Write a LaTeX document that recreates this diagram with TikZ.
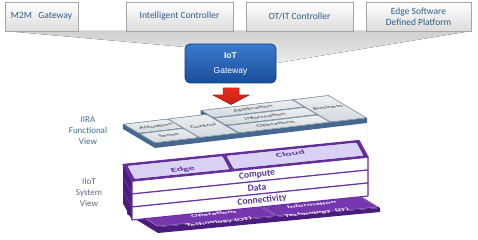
\documentclass[tikz,border=0pt]{standalone}
\usepackage{fontspec}
\setmainfont{Carlito}
\newfontfamily\gwfont{Liberation Sans}
\usetikzlibrary{shadows}
\definecolor{boxText}{HTML}{2E5C8A}
\definecolor{boxEdge}{HTML}{A6A6A6}
\definecolor{boxLow}{HTML}{DCDCDC}
\definecolor{funnelGrey}{HTML}{D0D0D0}
\definecolor{gwTop}{HTML}{3A7BCB}
\definecolor{gwLow}{HTML}{1A4E9C}
\definecolor{gwEdge}{HTML}{153E78}
\definecolor{arrowRed}{HTML}{F02A1E}
\definecolor{arrowEdge}{HTML}{A30D0D}
\definecolor{tileGrey}{HTML}{D3D8DD}
\definecolor{tileEdge}{HTML}{7C90A6}
\definecolor{slabSide}{HTML}{46688F}
\definecolor{slabGap}{HTML}{6F87A2}
\definecolor{tileText}{HTML}{3A3A3A}
\definecolor{iiotPurple}{HTML}{6A2EA2}
\definecolor{iiotDark}{HTML}{4A1D7C}
\definecolor{iiotLav}{HTML}{D9D2F4}
\definecolor{iiotText}{HTML}{5A3396}
\definecolor{baseTile}{HTML}{7636B0}
\definecolor{baseEdge}{HTML}{A27BD0}
\definecolor{viewBlue}{HTML}{3B6E92}
\definecolor{viewPurple}{HTML}{6A6286}
\definecolor{dotGrey}{HTML}{B8B8B8}
\tikzset{
  topbox/.style={draw=boxEdge,top color=white,bottom color=boxLow,minimum height=29pt,
    text=boxText,align=center,font=\fontsize{9.5}{11.5}\selectfont,
    drop shadow={opacity=0.2,shadow xshift=1pt,shadow yshift=-1pt}},
  gwbox/.style={draw=gwEdge,thick,rounded corners=5pt,top color=gwTop,bottom color=gwLow,
    minimum width=91pt,minimum height=39pt,text=white,align=center,
    font=\gwfont\fontsize{8.5}{10}\selectfont},
  redarrow/.style={draw=arrowEdge,top color=arrowRed,bottom color=arrowRed!80!black},
  tile/.style={draw=tileEdge,line width=0.4pt,rounded corners=1.5pt,top color=tileGrey!40!white,bottom color=tileGrey},
  flab/.style={text=tileText,font=\fontsize{5}{5}\selectfont,rotate=7,xslant=-0.7,xscale=1.7,yscale=0.8,inner sep=0pt},
  band/.style={fill=white,draw=iiotPurple,line width=1.1pt,line join=round},
  toptile/.style={fill=iiotLav,draw=iiotDark,line width=0.6pt,rounded corners=1pt},
  slab/.style={text=iiotText,font=\fontsize{8}{8}\selectfont\bfseries,rotate=6,xslant=-0.4,xscale=1.5,yscale=0.75,inner sep=0pt},
  layer/.style={text=iiotText,font=\fontsize{9.5}{9.5}\selectfont\bfseries,rotate=6,inner sep=0pt},
  basetile/.style={fill=baseTile,draw=baseEdge,line width=0.5pt,rounded corners=1pt},
  baselab/.style={text=white,align=center,font=\fontsize{5.5}{12}\selectfont\bfseries,rotate=6,xslant=-0.5,xscale=1.8,yscale=0.7,inner sep=0pt},
  viewlab/.style={align=center,font=\fontsize{9}{11}\selectfont},
  dotlink/.style={draw=dotGrey,dotted,thin}
}
\begin{document}
\begin{tikzpicture}[x=1pt,y=-1pt]
\useasboundingbox (0,0) rectangle (478,240);
% grey funnel into the gateway
\fill[top color=funnelGrey,bottom color=funnelGrey!40] (5,31) -- (471,31) -- (277,63) -- (185,47) -- cycle;
\node[topbox,minimum width=73pt] (m2m) at (41.5,16.5) {M2M\ \ \ Gateway};
\node[topbox,minimum width=107pt] (intctrl) at (179.5,16.5) {Intelligent Controller};
\node[topbox,minimum width=107pt] (otit) at (299.5,16.5) {OT/IT Controller};
\node[topbox,minimum width=105pt] (edgesw) at (418.5,16.5) {Edge Software\\Defined Platform};
\node[gwbox] (gw) at (230.5,63.5) {\textbf{IoT}\\[5pt]Gateway};
\filldraw[redarrow] (223,88) -- (239,88) -- (239,95) -- (249,95) -- (231,104.5) -- (213,95) -- (223,95) -- cycle;

% IIRA functional view
\begin{scope}[shift={(155,143)},x={(1pt,0.118pt)},y={(-1.067pt,0.633pt)},z={(0pt,-1pt)}]
\fill[slabSide] (0,30,0) -- (0,30,5) -- (0,0,5) -- (212,0,5) -- (212,0,0) -- (0,0,0) -- cycle;
\fill[slabSide] (84,30,0) -- (84,36,0) -- (84,36,4) -- (84,30,4) -- cycle;
\fill[slabGap] (0,0) -- (212,0) -- (212,36) -- (84,36) -- (84,30) -- (0,30) -- cycle;
\foreach \ua/\va/\ub/\vb in {0.5/15.5/44/29.5, 0.5/0.5/44/14.5, 45/0.5/83/29.5,
    84.5/0.5/175/11.5, 84.5/12.5/175/23.5, 84.5/24.5/175/35.5, 176/0.5/211.5/35.5}
  \draw[tile] (\ua,\va) -- (\ub,\va) -- (\ub,\vb) -- (\ua,\vb) -- cycle;
\node[flab] (act) at (24,22) {Actuation};
\node[flab] (sense) at (22,8) {Sense};
\node[flab] (control) at (64,15) {Control};
\node[flab] (app) at (130,30) {Application};
\node[flab] (info) at (129,18) {Information};
\node[flab] (ops) at (127,6) {Operations};
\node[flab] (busi) at (194,20) {Business};
\coordinate (fnl) at (0,30,5);
\coordinate (fnr) at (212,0,5);
\end{scope}

% IIoT system view: base
\begin{scope}[shift={(158,227)},x={(1pt,0.0856pt)},y={(-31pt,19pt)},z={(0pt,-1pt)}]
\fill[iiotDark] (0,1,0) -- (0,1,6) -- (0,0,6) -- (222,0,4) -- (222,0,0) -- (0,0,0) -- cycle;
\fill[iiotDark] (0,0) -- (222,0) -- (222,1) -- (0,1) -- cycle;
\draw[basetile] (1,0.05) -- (119,0.05) -- (119,0.95) -- (1,0.95) -- cycle;
\draw[basetile] (121,0.05) -- (221,0.05) -- (221,0.95) -- (121,0.95) -- cycle;
\end{scope}

% IIoT system view: stacked layers
\begin{scope}[shift={(132,181)},x={(1pt,0.1017pt)},y={(-9pt,16.5pt)},z={(0pt,-1pt)}]
\fill[iiotDark] (0,0,0) -- (0,1,0) -- (0,1,39) -- (0,0,39) -- cycle;
\draw[iiotPurple,line width=1pt] (0,1,13) -- (0,0,13) (0,1,26) -- (0,0,26);
\filldraw[band] (0,0,0) -- (236,0,0) -- (236,0,13) -- (0,0,13) -- cycle;
\filldraw[band] (0,0,13) -- (236,0,13) -- (236,0,26) -- (0,0,26) -- cycle;
\filldraw[band] (0,0,26) -- (236,0,26) -- (236,0,39) -- (0,0,39) -- cycle;
\filldraw[fill=iiotPurple,draw=iiotPurple,line width=1.2pt,line join=round] (0,0,0) -- (236,0,0) -- (236,1,0) -- (0,1,0) -- cycle;
\draw[toptile] (3,0.08) -- (99,0.08) -- (99,0.92) -- (3,0.92) -- cycle;
\draw[toptile] (102,0.08) -- (233,0.08) -- (233,0.92) -- (102,0.92) -- cycle;
\node[slab] (edge) at (54,0.35) {Edge};
\node[slab] (cloud) at (164,0.65) {Cloud};
\node[layer] (compute) at (125,0,6.5) {Compute};
\node[layer] (data) at (125,0,19.5) {Data};
\node[layer] (conn) at (130,0,32.5) {Connectivity};
\coordinate (sysl) at (0,1,0);
\coordinate (sysr) at (236,0,0);
\end{scope}

% base labels
\begin{scope}[shift={(158,227)},x={(1pt,0.0856pt)},y={(-31pt,19pt)}]
\node[baselab] (ot) at (64,0.18) {Operations\\Technology (OT)};
\node[baselab] (it) at (163,0.22) {Information\\Technology \ (IT)};
\end{scope}

\draw[dotlink] (fnl) -- (sysl);
\draw[dotlink] (fnr) -- (sysr);

\node[viewlab,text=viewBlue] (funcview) at (88,131) {IIRA\\Functional\\View};
\node[viewlab,text=viewPurple] (sysview) at (89,193) {IIoT\\System\\View};
\end{tikzpicture}
\end{document}
